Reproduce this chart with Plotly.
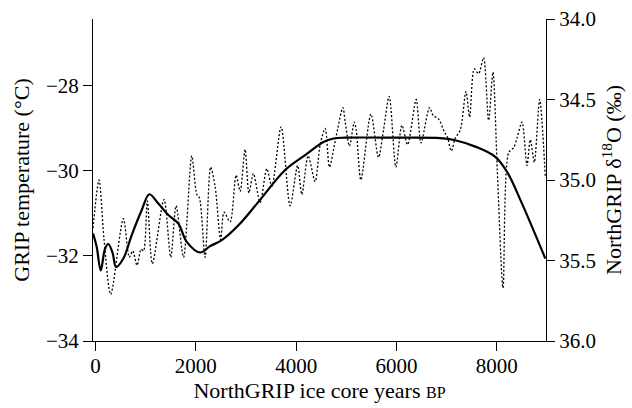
import plotly.graph_objects as go

# Smoothed GRIP temperature (left axis, °C)
temp_years = [-50, 24, 104, 190, 255, 343, 409, 555, 722, 922, 1073, 1253, 1452, 1652,
              1819, 2085, 2284, 2517, 2849, 3247, 3780, 4179, 4544, 4744, 4977, 5974,
              6871, 7171, 7570, 7969, 8202, 8502, 8966]
temp_values = [-31.47, -31.79, -32.34, -31.83, -31.72, -31.94, -32.26, -32.06, -31.51,
               -30.92, -30.55, -30.77, -31.04, -31.24, -31.67, -31.92, -31.77, -31.63,
               -31.28, -30.73, -29.98, -29.63, -29.32, -29.24, -29.22, -29.22, -29.23,
               -29.28, -29.43, -29.67, -30.02, -30.77, -32.06]

# NorthGRIP d18O (right axis, reversed)
d18o_years = [-50, 70, 170, 303, 555, 674, 742, 828, 908, 958, 1033, 1133, 1366, 1500,
              1606, 1755, 1919, 2019, 2071, 2184, 2294, 2384, 2494, 2563, 2683, 2803,
              2883, 2982, 3058, 3148, 3281, 3415, 3515, 3700, 3880, 4029, 4113, 4239,
              4378, 4478, 4578, 4664, 4777, 4931, 4977, 5063, 5157, 5197, 5290, 5490,
              5641, 5741, 5855, 5988, 6108, 6220, 6393, 6487, 6659, 6732, 6838, 6952,
              7012, 7092, 7171, 7271, 7385, 7457, 7550, 7636, 7736, 7836, 7923, 8009,
              8123, 8235, 8334, 8402, 8502, 8601, 8667, 8747, 8853, 8966]
d18o_values = [35.30, 35.00, 35.37, 35.71, 35.24, 35.48, 35.44, 35.53, 35.43, 35.44,
               35.13, 35.52, 35.12, 35.48, 35.16, 35.48, 34.85, 35.09, 35.11, 35.48,
               34.92, 35.04, 35.37, 35.20, 35.26, 34.97, 35.07, 34.81, 35.08, 34.96,
               35.14, 34.93, 35.04, 34.67, 35.16, 34.91, 35.09, 34.85, 35.01, 34.78,
               34.68, 34.92, 34.76, 34.55, 34.64, 34.79, 34.64, 34.69, 35.00, 34.59,
               34.86, 34.69, 34.48, 34.92, 34.66, 34.78, 34.50, 34.77, 34.55, 34.60,
               34.62, 34.70, 34.73, 34.82, 34.74, 34.69, 34.45, 34.61, 34.31, 34.34,
               34.24, 34.63, 34.33, 34.94, 35.67, 34.83, 34.80, 34.74, 34.64, 34.91,
               34.75, 34.89, 34.50, 34.98]

x_ticks = [0, 2000, 4000, 6000, 8000]
left_ticks = [-34, -32, -30, -28]
right_ticks = [34.0, 34.5, 35.0, 35.5, 36.0]

FONT = "Liberation Serif"

fig = go.Figure()
fig.add_trace(go.Scatter(
    x=d18o_years, y=d18o_values, yaxis="y2", mode="lines",
    line=dict(color="black", width=1.3, dash="2px,2px", shape="spline", smoothing=0.8),
    showlegend=False, hoverinfo="skip"))
fig.add_trace(go.Scatter(
    x=temp_years, y=temp_values, mode="lines",
    line=dict(color="black", width=2.2, shape="spline", smoothing=1.0),
    showlegend=False))

fig.update_layout(
    width=632, height=408, autosize=False,
    margin=dict(l=93, r=86, t=19, b=67),
    paper_bgcolor="white", plot_bgcolor="white",
    font=dict(family=FONT, size=21, color="black"),
    xaxis=dict(range=[-50, 8980], tickvals=x_ticks, ticks="outside", ticklen=9,
               tickwidth=1, tickcolor="black", showline=True, linecolor="black",
               linewidth=1, showgrid=False, zeroline=False, automargin=False,
               ticklabelstandoff=-3,
               title=dict(text="NorthGRIP ice core years <span style='font-size:16px'>BP</span>",
                          font=dict(size=22), standoff=3)),
    yaxis=dict(range=[-34, -26.43], tickvals=left_ticks, ticks="outside", ticklen=9,
               tickwidth=1, tickcolor="black", showline=True, linecolor="black",
               linewidth=1, showgrid=False, zeroline=False, automargin=False,
               title=dict(text="GRIP temperature (°C)", font=dict(size=22), standoff=10)),
    yaxis2=dict(range=[36.0, 34.0], tickvals=right_ticks, tickformat=".1f",
                overlaying="y", side="right", ticks="outside", ticklen=8,
                tickwidth=1, tickcolor="black", showline=True, linecolor="black",
                linewidth=1, showgrid=False, zeroline=False, automargin=False,
                title=dict(text="NorthGRIP δ<sup>18</sup>O (‰)", font=dict(size=22),
                           standoff=10)),
)

fig.write_html("out.html")
